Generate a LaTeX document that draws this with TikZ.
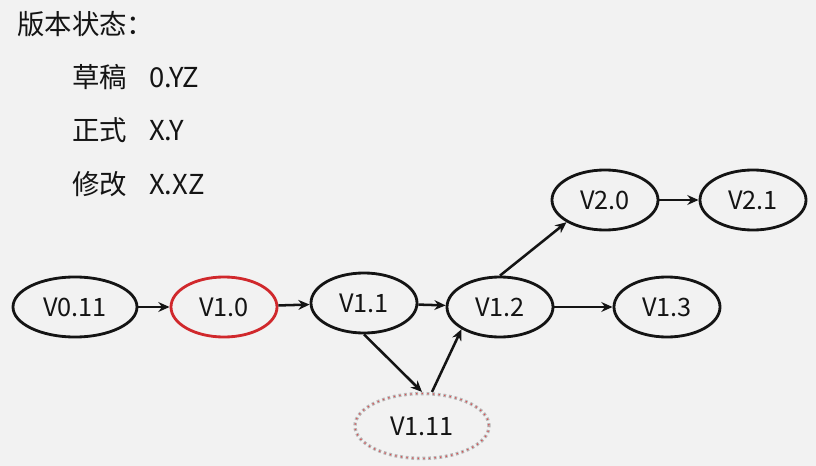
\documentclass[tikz,border=0pt]{standalone}
\usepackage{fontspec}
\usepackage{tikz}
\usetikzlibrary{arrows.meta, positioning, shapes.geometric}
\newfontfamily\cjkfont{Noto Sans CJK SC}
\definecolor{bggray}{RGB}{242, 242, 242}
\definecolor{draftred}{RGB}{208, 40, 44}
\definecolor{linetext}{RGB}{20, 20, 20}

\begin{document}
\begin{tikzpicture}[
        x=0.025cm, y=-0.025cm,
        every node/.style={font=\cjkfont\fontsize{18}{21}\selectfont, text=linetext},
        ver/.style={ellipse, draw=linetext, line width=2pt, inner sep=0pt,
                    minimum width=2.65cm, minimum height=1.5cm},
        wide/.style={ver, minimum width=3.1cm},
        redver/.style={ver, draw=draftred},
        fixver/.style={ver, draw=gray!55, line width=2.4pt,
                       dash pattern=on 2pt off 2pt,
                       minimum width=3.35cm, minimum height=1.62cm,
                       postaction={draw=draftred!80, line width=0.9pt,
                                   dash pattern=on 0.9pt off 3.1pt, dash phase=-0.55pt}},
        arr/.style={-{Stealth[length=8pt, width=7pt]}, line width=1.8pt, linetext},
        legend/.style={anchor=west, inner sep=0pt, font=\cjkfont\fontsize{19.5}{23}\selectfont}
      ]
        \fill[bggray] (0,0) rectangle (816,466);

        % legend
        \node[legend] (T)  at (17,24)  {版本状态：};
        \node[legend] (L1) at (72,77)  {草稿\hspace{0.8em}0.YZ};
        \node[legend] (L2) at (72,130) {正式\hspace{0.8em}X.Y};
        \node[legend] (L3) at (72,184) {修改\hspace{0.8em}X.XZ};

        % versions
        \node[wide]    (V011) at (75,307)  {V0.11};
        \node[redver]  (V10)  at (224,307) {V1.0};
        \node[ver]     (V11)  at (364,303) {V1.1};
        \node[ver]     (V12)  at (500,307) {V1.2};
        \node[ver]     (V13)  at (667,307) {V1.3};
        \node[ver]     (V20)  at (605,200) {V2.0};
        \node[ver]     (V21)  at (753,200) {V2.1};
        \node[fixver]  (V111) at (422,426) {V1.11};

        \draw[arr] (V011)--(V10);
        \draw[arr] (V10)--(V11);
        \draw[arr] (V11)--(V12);
        \draw[arr] (V12)--(V13);
        \draw[arr] (V20)--(V21);
        \draw[arr] (V11.south)--(V111.north);
        \draw[arr] (V111.north)++(10,0)--(V12.south west);
        \draw[arr] (V12.north)--(V20.south west);
      \end{tikzpicture}
\end{document}
